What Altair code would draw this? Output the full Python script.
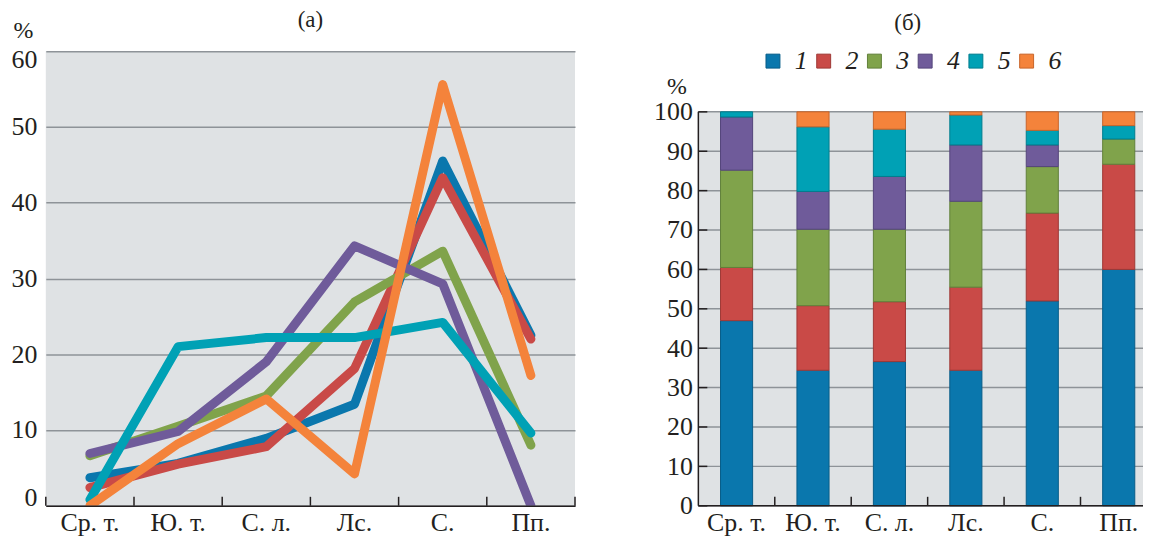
import altair as alt
import pandas as pd

# ---------------- data ----------------
categories = ["Ср. т.", "Ю. т.", "С. л.", "Лс.", "С.", "Пп."]
series_names = ["1", "2", "3", "4", "5", "6"]

colors = ["#0a77ad", "#c94a47", "#80a34b", "#6f5b9a", "#00a1b5", "#f4833b"]
edge_colors = ["#075d88", "#9e3835", "#61803a", "#54457a", "#007d8d", "#c8652a"]

# panel (а): lines, %
line_1 = [3.7, 5.6, 8.9, 13.4, 45.5, 22.5]
line_2 = [2.4, 5.5, 7.8, 18.1, 43.3, 22.0]
line_3 = [6.6, 10.5, 14.5, 26.9, 33.6, 8.0]
line_4 = [6.9, 9.8, 19.0, 34.3, 29.3, 0.0]
line_5 = [0.8, 21.0, 22.2, 22.2, 24.2, 9.6]
line_6 = [0.0, 8.2, 14.1, 4.2, 55.6, 17.2]

# panel (б): stacked bars, %
bar_1 = [47.0, 34.4, 36.6, 34.4, 52.0, 60.0]
bar_2 = [13.5, 16.4, 15.2, 21.1, 22.3, 26.7]
bar_3 = [24.7, 19.4, 18.4, 21.8, 11.8, 6.4]
bar_4 = [13.5, 9.6, 13.4, 14.3, 5.5, 0.0]
bar_5 = [1.3, 16.4, 12.0, 7.6, 3.7, 3.4]
bar_6 = [0.0, 3.8, 4.4, 0.8, 4.7, 3.5]

left_ticks = [0, 10, 20, 30, 40, 50, 60]
right_ticks = [0, 10, 20, 30, 40, 50, 60, 70, 80, 90, 100]

# ---------------- tables ----------------
lines = [line_1, line_2, line_3, line_4, line_5, line_6]
bars = [bar_1, bar_2, bar_3, bar_4, bar_5, bar_6]

line_rows, bar_rows = [], []
for si, (name, lv, bv) in enumerate(zip(series_names, lines, bars)):
    for ci, cat in enumerate(categories):
        line_rows.append({"cat": cat, "series": name, "idx": si, "pos": ci, "val": lv[ci]})
        bar_rows.append({"cat": cat, "series": name, "idx": si, "pos": ci, "val": bv[ci]})
line_df = pd.DataFrame(line_rows)
bar_df = pd.DataFrame(bar_rows)
rtick_df = pd.DataFrame({"v": right_ticks})
cat_df = pd.DataFrame({"cat": categories})
one_df = pd.DataFrame({"a": [0]})

FONT = "Liberation Serif"
TXT = "#231f20"
GRID = "#8e9398"
BG = "#dfe2e4"

WL, HL = 532, 457
WR, HR = 447, 457          # visible frame of the right panel (cut by the page edge)
WR_FULL = 461              # full extent of the six bands
R_TOP = 100 * HR / 396.0   # the right plot's frame extends above 100 % (room for legend)

band_scale = alt.Scale(type="band", paddingInner=0, paddingOuter=0)

# ---------------- left panel ----------------
x_left_axis = alt.Axis(title=None, labelAngle=0, labelFont=FONT, labelFontSize=26,
                       labelColor=TXT, labelPadding=4, ticks=False, grid=False,
                       domainColor=TXT, domainWidth=1.5, zindex=1)
y_left_axis = alt.Axis(values=left_ticks, title="%", titleAngle=0, titleX=-33, titleY=-14,
                       titleAlign="left", titleBaseline="alphabetic", titleFont=FONT,
                       titleFontSize=24, titleFontWeight="normal", titleColor=TXT,
                       labelFont=FONT, labelFontSize=26, labelColor=TXT, labelFlush=True,
                       labelFlushOffset=5, labelPadding=9, domain=False, ticks=False,
                       grid=True, gridColor=GRID, gridWidth=1.5)

left_lines = alt.Chart(line_df).mark_line(
    strokeWidth=9, strokeCap="round", strokeJoin="round", clip=True
).encode(
    x=alt.X("cat:N", sort=categories, bandPosition=0.5, scale=band_scale, axis=x_left_axis),
    y=alt.Y("val:Q", scale=alt.Scale(domain=[0, 60], nice=False), axis=y_left_axis),
    color=alt.Color("series:N", scale=alt.Scale(domain=series_names, range=colors), legend=None),
    order=alt.Order("pos:Q"),
)

left_xticks = alt.Chart(cat_df).mark_rule(color=TXT, strokeWidth=1.5).encode(
    x=alt.X("cat:N", sort=categories, bandPosition=0),
    y=alt.value(HL), y2=alt.value(HL - 9),
)
left_xtick_end = alt.Chart(pd.DataFrame({"cat": categories[-1:]})).mark_rule(
    color=TXT, strokeWidth=1.5
).encode(
    x=alt.X("cat:N", sort=categories, bandPosition=1),
    y=alt.value(HL), y2=alt.value(HL - 9),
)

left = alt.layer(left_lines, left_xticks, left_xtick_end).properties(
    width=WL, height=HL,
    view=alt.ViewBackground(fill=BG, strokeWidth=0),
    title=alt.TitleParams("(а)", font=FONT, fontSize=23, fontWeight="normal",
                          color=TXT, offset=-14),
)

# ---------------- right panel ----------------
y_right_axis = alt.Axis(values=right_ticks, title="%", titleAngle=0, titleX=-32, titleY=43,
                        titleAlign="left", titleBaseline="alphabetic", titleFont=FONT,
                        titleFontSize=24, titleFontWeight="normal", titleColor=TXT,
                        labelFont=FONT, labelFontSize=26, labelColor=TXT,
                        labelPadding=6, domain=False, ticks=False, grid=False)

y_right_scale = alt.Scale(domain=[0, R_TOP], nice=False)
x_right_scale = alt.Scale(type="band", paddingInner=0, paddingOuter=0, range=[0, WR_FULL])

legend = alt.Legend(title=None, orient="none", legendX=62, legendY=-3,
                    direction="horizontal", symbolType="square", symbolSize=196,
                    symbolStrokeWidth=1, labelFont=FONT, labelFontSize=26,
                    labelFontStyle="italic", labelColor=TXT, labelOffset=9,
                    columnPadding=3)

right_bg = alt.Chart(one_df).mark_rect(color=BG).encode(
    x=alt.value(0), x2=alt.value(WR),
    y=alt.datum(0, scale=y_right_scale), y2=alt.datum(100),
)
right_grid = alt.Chart(rtick_df).mark_rule(color=GRID, strokeWidth=1.5).encode(
    y=alt.Y("v:Q"), x=alt.value(0), x2=alt.value(WR),
)

right_bars = alt.Chart(bar_df).transform_filter("datum.val > 0").mark_bar(
    width=alt.RelativeBandSize(0.42), strokeWidth=1
).encode(
    x=alt.X("cat:N", sort=categories, scale=x_right_scale, axis=None),
    y=alt.Y("val:Q", stack="zero", scale=y_right_scale, axis=y_right_axis),
    color=alt.Color("series:N", scale=alt.Scale(domain=series_names, range=colors),
                    legend=legend),
    stroke=alt.Stroke("series:N", scale=alt.Scale(domain=series_names, range=edge_colors),
                      legend=legend),
    order=alt.Order("idx:Q", sort="ascending"),
)

right_ydomain = alt.Chart(one_df).mark_rule(color=TXT, strokeWidth=1.5).encode(
    x=alt.value(0), y=alt.datum(0), y2=alt.datum(100),
)
right_xdomain = alt.Chart(one_df).mark_rule(color=TXT, strokeWidth=1.5).encode(
    x=alt.value(0), x2=alt.value(WR), y=alt.value(HR),
)
right_yticks = alt.Chart(rtick_df).mark_rule(color=TXT, strokeWidth=1.5).encode(
    y=alt.Y("v:Q"), x=alt.value(0), x2=alt.value(9),
)
right_xticks = alt.Chart(pd.DataFrame({"cat": categories[1:]})).mark_rule(
    color=TXT, strokeWidth=1.5
).encode(
    x=alt.X("cat:N", sort=categories, bandPosition=0),
    y=alt.value(HR), y2=alt.value(HR - 9),
)
right_xlabels = alt.Chart(cat_df).mark_text(
    font=FONT, fontSize=26, color=TXT, baseline="top", align="center"
).encode(
    x=alt.X("cat:N", sort=categories, bandPosition=0.5),
    y=alt.value(HR + 4),
    text=alt.Text("cat:N"),
)

right = alt.layer(
    right_bg, right_grid, right_bars, right_ydomain, right_xdomain, right_yticks,
    right_xticks, right_xlabels
).properties(
    width=WR, height=HR,
    view=alt.ViewBackground(strokeWidth=0),
    title=alt.TitleParams("(б)", font=FONT, fontSize=23, fontWeight="normal",
                          color=TXT, offset=13, dx=-13),
)

chart = alt.hconcat(left, right, spacing=78).resolve_scale(
    color="independent", stroke="independent", x="independent", y="independent"
).resolve_legend(
    color="independent", stroke="independent"
).properties(
    padding={"left": 3, "top": 0, "right": 0, "bottom": 0}
).configure_view(
    strokeWidth=0
).configure(font=FONT)

chart.save("out.html", embed_options={"renderer": "svg", "actions": False})
